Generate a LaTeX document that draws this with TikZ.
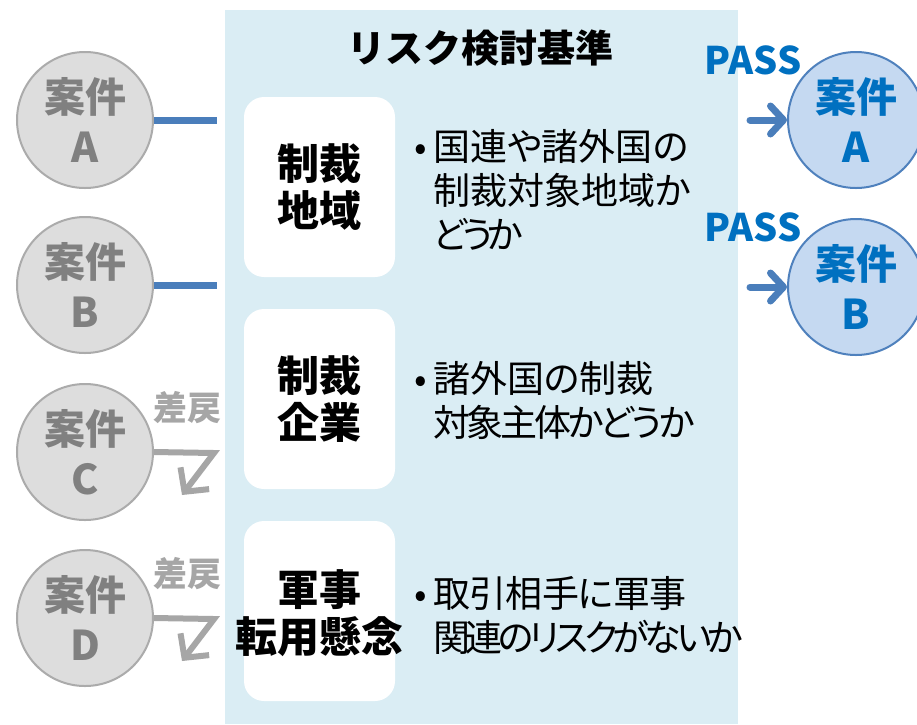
\documentclass[tikz,border=0pt]{standalone}
\usepackage{fontspec}
\setmainfont{Noto Sans CJK JP}
\newfontfamily\descfont[RawFeature=+palt]{Noto Sans CJK JP}
\usetikzlibrary{arrows.meta}
\definecolor{panel}{HTML}{DAEDF4}
\definecolor{grayfill}{HTML}{DDDDDD}
\definecolor{graystroke}{HTML}{ABABAB}
\definecolor{graytext}{HTML}{808080}
\definecolor{retgray}{HTML}{A6A6A6}
\definecolor{bluefill}{HTML}{C5D9F1}
\definecolor{bluestroke}{HTML}{4F81BD}
\definecolor{bluetext}{HTML}{0070C0}
\definecolor{linkblue}{HTML}{4A7EBB}
\newcommand{\bul}{\llap{•\hspace{6pt}}}
\newcommand{\trk}[2]{{\addfontfeature{LetterSpace=#1}#2}}
\tikzset{
  casegray/.style={circle, draw=graystroke, line width=2pt, fill=grayfill, minimum size=136pt, inner sep=0pt,
    text=graytext, font=\fontsize{41}{50}\selectfont\bfseries, align=center},
  caseblue/.style={circle, draw=bluestroke, line width=2pt, fill=bluefill, minimum size=136pt, inner sep=0pt,
    text=bluetext, font=\fontsize{41}{50}\selectfont\bfseries, align=center},
  critbox/.style={rounded corners=20pt, fill=white, minimum width=151pt, minimum height=180pt, inner sep=0pt},
  critlabel/.style={font=\fontsize{42}{47}\selectfont\bfseries, align=center, inner sep=0pt},
  desc/.style={font=\descfont\fontsize{37}{44}\selectfont, align=left, anchor=north west, inner sep=0pt},
  passlbl/.style={text=bluetext, font=\fontsize{38}{40}\selectfont\bfseries, inner sep=0pt},
  retlbl/.style={text=retgray, font=\fontsize{34}{36}\selectfont\bfseries, inner sep=0pt},
  bluelink/.style={draw=linkblue, line width=7pt},
  passarrow/.style={draw=linkblue, line width=7pt, line cap=round, line join=round,
    -{Straight Barb[length=13pt, width=28pt, line cap=round, line join=round]}},
  retarrow/.style={draw=retgray, line width=6pt, line join=miter,
    -{Straight Barb[length=17pt, width=36pt]}},
}
\begin{document}
\begin{tikzpicture}[x=1pt, y=-1pt]
\useasboundingbox (0,0) rectangle (917,724);
\fill[white] (0,0) rectangle (917,724);
% panel
\fill[panel] (225,10) rectangle (738,724);
\node[font=\fontsize{38}{40}\selectfont\bfseries, inner sep=0pt] (title) at (480,48) {リスク検討基準};
% criteria boxes
\node[critbox] (b1) at (319.5,187) {};
\node[critbox] (b2) at (319.5,399) {};
\node[critbox] (b3) at (319.5,611) {};
\node[critlabel] (l1) at (319.5,187) {制裁\\地域};
\node[critlabel] (l2) at (319.5,399) {制裁\\企業};
\node[critlabel] (l3) at (319.5,613) {軍事\\転用懸念};
% descriptions
\node[desc] (d1) at (433,129) {\bul 国連や諸外国の\\制裁対象地域か\\\trk{-15}{どうか}};
\node[desc] (d2) at (433,361) {\bul 諸外国の制裁\\\trk{-9}{対象主体かどうか}};
\node[desc] (d3) at (433,576) {\bul \trk{-2}{取引相手に軍事}\\\trk{-12}{関連のリスクがないか}};
% left cases
\node[casegray] (cA) at (85,120) {案件\\A};
\node[casegray] (cB) at (85,285) {案件\\B};
\node[casegray] (cC) at (85,452) {案件\\C};
\node[casegray] (cD) at (85,618) {案件\\D};
\coordinate (eA) at (217,120);
\coordinate (eB) at (217,285);
\draw[bluelink] (cA.east) -- (eA);
\draw[bluelink] (cB.east) -- (eB);
% returned
\node[retlbl] (rC) at (187,408) {差戻};
\node[retlbl] (rD) at (187,574) {差戻};
\coordinate (kC) at (214,453);
\coordinate (tC) at (182,495);
\coordinate (kD) at (214,619);
\coordinate (tD) at (182,661);
\draw[retarrow] (cC.east) -- (kC) -- (tC);
\draw[retarrow] (cD.east) -- (kD) -- (tD);
% right cases
\node[caseblue] (rA) at (856,120) {案件\\A};
\node[caseblue] (rB) at (856,287) {案件\\B};
\node[passlbl] (pA) at (753,60) {PASS};
\node[passlbl] (pB) at (753,227) {PASS};
\coordinate (sA) at (750,120);
\coordinate (sB) at (750,287);
\draw[passarrow] (sA) -- (rA.west);
\draw[passarrow] (sB) -- (rB.west);
\end{tikzpicture}
\end{document}
